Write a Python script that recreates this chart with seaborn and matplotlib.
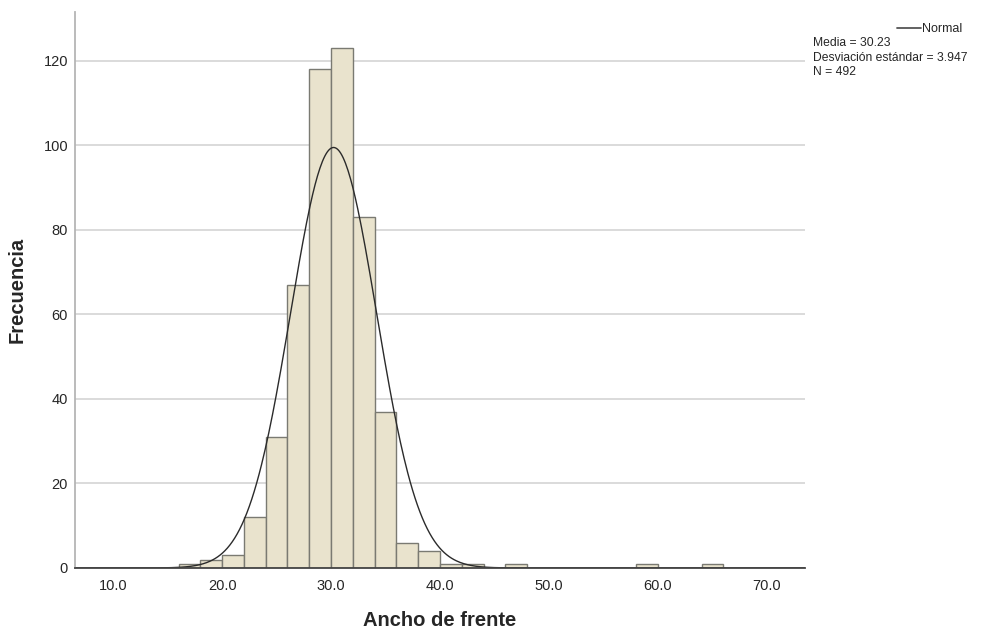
import numpy as np
import pandas as pd
import matplotlib
matplotlib.use("Agg")
import matplotlib.pyplot as plt
import seaborn as sns

# bin edges (width 2) and frequencies
bin_left = [16, 18, 20, 22, 24, 26, 28, 30, 32, 34, 36, 38, 40, 42, 46, 58, 64]
counts = [1, 2, 3, 12, 31, 67, 118, 123, 83, 37, 6, 4, 1, 1, 1, 1, 1]
media = 30.23
desv = 3.947
n_total = 492
x_ticks = [10, 20, 30, 40, 50, 60, 70]
y_ticks = [0, 20, 40, 60, 80, 100, 120]

df = pd.DataFrame({"centro": np.array(bin_left) + 1, "frecuencia": counts})

sns.set_style("white")
plt.rcParams["font.family"] = ["Liberation Sans", "DejaVu Sans"]

fig = plt.figure(figsize=(9.95, 6.32), dpi=100)
ax = fig.add_axes([0.0754, 0.1013, 0.7337, 0.8797])

ax.set_axisbelow(True)
for y in y_ticks[1:]:
    ax.axhline(y, color="#d4d4d4", lw=1.2, zorder=0)

sns.histplot(data=df, x="centro", weights="frecuencia", binwidth=2, binrange=(16, 66), ax=ax,
             color="#e9e3cd", edgecolor="#7a7a72", linewidth=1.0, alpha=1)

xs = np.linspace(6.5, 73.5, 600)
ys = n_total * 2 / (desv * np.sqrt(2 * np.pi)) * np.exp(-0.5 * ((xs - media) / desv) ** 2)
sns.lineplot(x=xs, y=ys, ax=ax, color="#2b2b2b", lw=1.0)

ax.set_xlim(6.5, 73.5)
ax.set_ylim(0, 131.5)
ax.set_xticks(x_ticks)
ax.set_xticklabels([f"{v:.1f}" for v in x_ticks])
ax.set_yticks(y_ticks)
ax.tick_params(length=0, labelsize=10.5, colors="#262626")
ax.tick_params(axis="x", pad=8)
ax.tick_params(axis="y", pad=5)

for s in ["top", "right"]:
    ax.spines[s].set_visible(False)
ax.spines["left"].set_color("#b5b5b5")
ax.spines["left"].set_linewidth(1.3)
ax.spines["bottom"].set_color("#444444")
ax.spines["bottom"].set_linewidth(1.3)

ax.set_xlabel("Ancho de frente", fontsize=14.5, fontweight="bold", labelpad=13)
ax.set_ylabel("Frecuencia", fontsize=14.5, fontweight="bold", labelpad=12)

# legend block outside the axes
fig.add_artist(plt.Line2D([897 / 995, 921 / 995], [1 - 28 / 632] * 2, color="#555555", lw=1.3))
fig.text(922 / 995, 1 - 29 / 632, "Normal", fontsize=9, va="center", ha="left")
fig.text(813 / 995, 1 - 37 / 632,
         f"Media = {media:.2f}\nDesviación estándar = {desv:.3f}\nN = {n_total}",
         fontsize=8.7, va="top", ha="left", linespacing=1.3)

fig.savefig("out.png", dpi=100)
